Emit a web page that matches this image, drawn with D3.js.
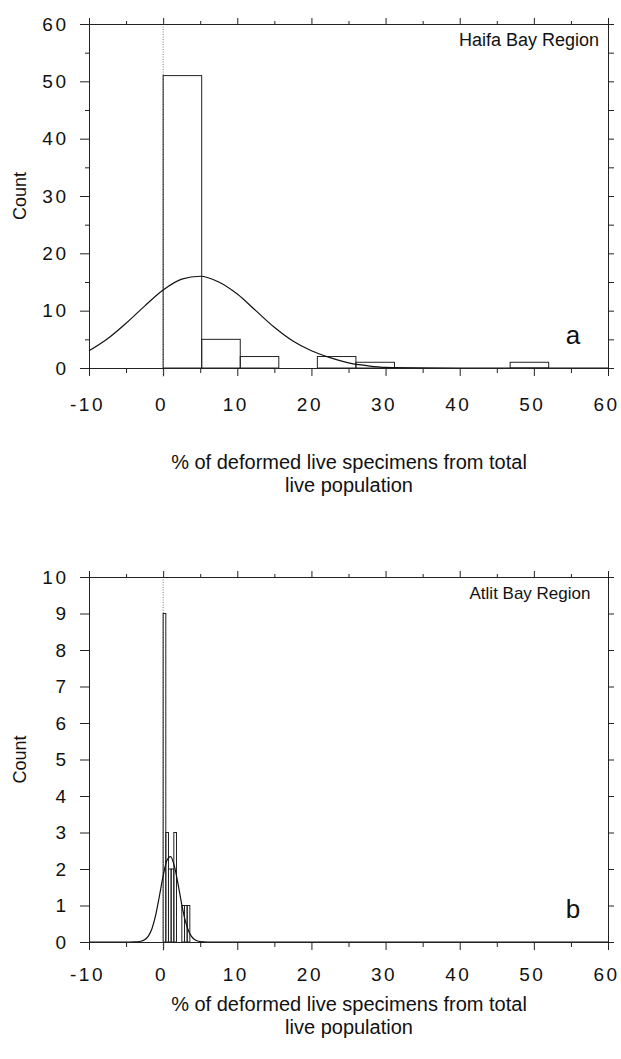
<!DOCTYPE html>
<html><head><meta charset="utf-8">
<script src="https://cdn.jsdelivr.net/npm/d3@7"></script>
<style>
body{margin:0;background:#fff}
text{font-family:"Liberation Sans",Arial,Helvetica,sans-serif;fill:#111}
</style>
</head><body>
<svg id="c" width="621" height="1059"></svg>
<script>
// ---- shared axis data ----
const xMajorTicks = [-10,0,10,20,30,40,50,60];
const xMinorTicks = [-5,5,15,25,35,45,55];
const xTitle1 = "% of deformed live specimens from total";
const xTitle2 = "live population";
const yTitle = "Count";

// ---- panel a: Haifa Bay Region ----
const haifaBinEdges = [0,5.2,10.4,15.6,20.8,26,31.2,36.4,41.6,46.8,52];
const haifaCounts   = [51,5,2,0,2,1,0,0,0,1];
const haifaCurveX = [-10,-7.5,-5,-2.5,0,2.5,5,7.5,10,12.5,15,17.5,20,22.5,25,27.5,30,35,40,50,60];
const haifaCurveY = [3.0,5.1,7.8,10.8,13.6,15.5,16.0,15.0,12.9,10.0,7.1,4.7,3.0,1.8,0.9,0.4,0.1,0.02,0,0,0];
const haifaYMajor = [0,10,20,30,40,50,60];
const haifaYMinor = [5,15,25,35,45,55];

// ---- panel b: Atlit Bay Region ----
const atlitBinEdges = [0,0.36,0.72,1.08,1.44,1.8,2.16,2.52,2.88,3.24,3.6];
const atlitCounts   = [9,3,2,2,3,0,0,1,1,1];
const atlitCurveX = [-10,-5,-4,-3,-2.5,-2,-1.5,-1,-0.5,0,0.5,1,1.5,2,2.5,3,3.5,4,4.5,5,6,10,60];
const atlitCurveY = [0,0,0.001,0.02,0.06,0.16,0.37,0.74,1.26,1.81,2.23,2.34,2.09,1.6,1.04,0.57,0.27,0.11,0.04,0.01,0,0,0];
const atlitYMajor = [0,1,2,3,4,5,6,7,8,9,10];

const svg = d3.select("#c");
const stroke = "#222";
const LS = 2.5; // tick label letter spacing

function panel(o){
  const g = svg.append("g");
  const x = d3.scaleLinear().domain([-10,60]).range([89,608]);
  const y = d3.scaleLinear().domain([0,o.yMax]).range([o.bottom,o.top]);

  // dotted zero line
  g.append("line").attr("x1",x(0)).attr("x2",x(0)).attr("y1",o.top).attr("y2",o.bottom+9)
    .attr("stroke","#555").attr("stroke-width",0.8).attr("stroke-dasharray","1,1.5");

  // bars
  const bins = o.counts.map((c,i)=>({x0:o.edges[i],x1:o.edges[i+1],c})).filter(d=>d.c>0);
  g.selectAll("rect.bar").data(bins).join("rect")
    .attr("x",d=>x(d.x0)).attr("width",d=>x(d.x1)-x(d.x0))
    .attr("y",d=>y(d.c)).attr("height",d=>y(0)-y(d.c))
    .attr("fill","none").attr("stroke",stroke).attr("stroke-width",1);

  // curve
  const pts = o.cx.map((v,i)=>[v,o.cy[i]]);
  g.append("path").datum(pts)
    .attr("d",d3.line().x(d=>x(d[0])).y(d=>y(d[1])).curve(d3.curveMonotoneX))
    .attr("fill","none").attr("stroke","#111").attr("stroke-width",1.2);

  // bottom axis
  const bMaj = d3.axisBottom(x).tickValues(xMajorTicks).tickSize(8).tickPadding(o.xLabPad).tickFormat(d=>String(d));
  const ga = g.append("g").attr("transform",`translate(0,${o.bottom})`).call(bMaj);
  ga.select(".domain").attr("stroke",stroke);
  ga.selectAll("line").attr("stroke",stroke);
  ga.selectAll("text").style("font-size","19px").style("letter-spacing",LS+"px").attr("dx","-2px").attr("fill","#111");
  const gm = g.append("g").attr("transform",`translate(0,${o.bottom})`)
    .call(d3.axisBottom(x).tickValues(xMinorTicks).tickSize(5).tickFormat(""));
  gm.select(".domain").remove(); gm.selectAll("line").attr("stroke",stroke);

  // top axis (ticks outward)
  const gt = g.append("g").attr("transform",`translate(0,${o.top})`)
    .call(d3.axisTop(x).tickValues(xMajorTicks).tickSize(6).tickFormat(""));
  gt.select(".domain").attr("stroke",stroke); gt.selectAll("line").attr("stroke",stroke);
  const gt2 = g.append("g").attr("transform",`translate(0,${o.top})`)
    .call(d3.axisTop(x).tickValues(xMinorTicks).tickSize(3).tickFormat(""));
  gt2.select(".domain").remove(); gt2.selectAll("line").attr("stroke",stroke);

  // left axis
  const gl = g.append("g").attr("transform",`translate(89,0)`)
    .call(d3.axisLeft(y).tickValues(o.yMajor).tickSize(9).tickPadding(14).tickFormat(d=>String(d)));
  gl.select(".domain").attr("stroke",stroke);
  gl.selectAll("line").attr("stroke",stroke);
  gl.selectAll("text").style("font-size","19px").style("letter-spacing",LS+"px").attr("dx",LS+"px").attr("fill","#111");
  if(o.yMinor){
    const gl2 = g.append("g").attr("transform",`translate(89,0)`)
      .call(d3.axisLeft(y).tickValues(o.yMinor).tickSize(4).tickFormat(""));
    gl2.select(".domain").remove(); gl2.selectAll("line").attr("stroke",stroke);
  }

  // right axis (ticks outward)
  const rTicks = o.yMinor ? o.yMajor.concat(o.yMinor) : o.yMajor;
  const gr = g.append("g").attr("transform",`translate(608,0)`)
    .call(d3.axisRight(y).tickValues(rTicks).tickSize(6).tickFormat(""));
  gr.select(".domain").attr("stroke",stroke); gr.selectAll("line").attr("stroke",stroke);

  // labels
  g.append("text").attr("x",o.labelX).attr("y",o.top+22).attr("text-anchor","middle")
    .style("font-size",o.titleSize).text(o.title);
  g.append("text").attr("x",573).attr("y",o.bottom-24).attr("text-anchor","middle")
    .style("font-size","26px").text(o.letter);
  g.append("text").attr("transform",`translate(26,${(o.top+o.bottom)/2}) rotate(-90)`)
    .attr("text-anchor","middle").style("font-size","18px").text(yTitle);
  g.append("text").attr("x",349).attr("y",o.bottom+o.t1).attr("text-anchor","middle")
    .style("font-size","20px").text(xTitle1);
  g.append("text").attr("x",349).attr("y",o.bottom+o.t1+23).attr("text-anchor","middle")
    .style("font-size","20px").text(xTitle2);
}

panel({top:24,bottom:368,yMax:60,edges:haifaBinEdges,counts:haifaCounts,cx:haifaCurveX,cy:haifaCurveY,
  yMajor:haifaYMajor,yMinor:haifaYMinor,title:"Haifa Bay Region",titleSize:"18px",labelX:529,letter:"a",xLabPad:22,t1:101});
panel({top:577,bottom:942,yMax:10,edges:atlitBinEdges,counts:atlitCounts,cx:atlitCurveX,cy:atlitCurveY,
  yMajor:atlitYMajor,yMinor:null,title:"Atlit Bay Region",titleSize:"17px",labelX:530,letter:"b",xLabPad:18,t1:69});
</script>
</body></html>
